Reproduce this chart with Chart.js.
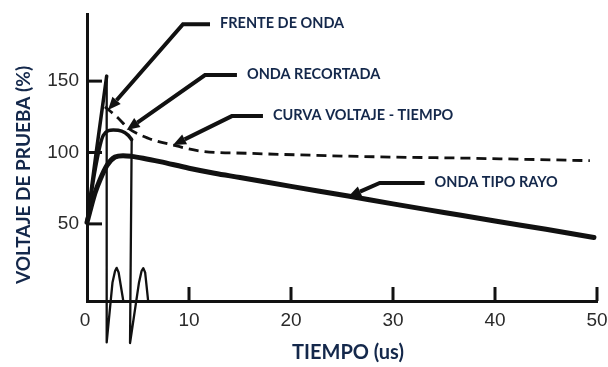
<!DOCTYPE html>
<html>
<head>
<meta charset="utf-8">
<script src="https://cdn.jsdelivr.net/npm/chart.js@4.4.0/dist/chart.umd.min.js"></script>
<style>
  html, body { margin: 0; padding: 0; background: #ffffff; }
  #wrap { width: 608px; height: 367px; position: relative; }
</style>
</head>
<body>
<div id="wrap"><canvas id="c" width="608" height="367"></canvas></div>
<script>
// ---- axis ticks ----
const timeTicks = [0, 10, 20, 30, 40, 50];
const voltTicks = [50, 100, 150];

// ---- full lightning impulse (ONDA TIPO RAYO) ----
const rayoT = [0, 0.4, 0.8, 1.27, 1.96, 2.75, 3.53, 4.38, 5.5, 7.16, 10, 12.5, 15, 20, 25.6, 30, 35, 40, 45, 49.7];
const rayoV = [51, 62, 72, 80.8, 91, 96.8, 97.8, 97.3, 96, 93.6, 89, 85.5, 82.5, 76.3, 69.5, 64, 58, 52, 46.2, 40.5];

// ---- chopped wave (ONDA RECORTADA): crest, then collapse and ringing ----
const recorteT = [0, 0.8, 1.6, 2.58, 3.4, 4.05, 4.38];
const recorteV = [51, 88, 112, 115.7, 115, 112, 109];
const recorteColaT = [4.38, 4.22, 5.1, 5.35, 5.52, 5.7, 6.0];
const recorteColaV = [109, -33.4, 9, 17, 19, 16, -4.3];

// ---- front-of-wave (FRENTE DE ONDA): steep rise, chopped on the front ----
const frenteT = [0, 0.9, 1.93];
const frenteV = [51, 100, 153.5];
const frenteColaT = [1.93, 1.93, 2.5, 2.75, 2.91, 3.1, 3.56];
const frenteColaV = [153.5, -33, 9, 17, 19.2, 16, -4];

// ---- voltage-time curve (CURVA VOLTAJE - TIEMPO) ----
const vtT = [1.76, 3.07, 4.05, 6.0, 8.46, 11.1, 16, 20.9, 28.4, 37.5, 49.3];
const vtV = [132, 124, 117, 110, 105.2, 101, 99.4, 98.3, 97, 96, 94.3];

// ---- callouts: label, arrow tip, elbow and end of the leader (in data units) ----
const callouts = [
  { text: 'FRENTE DE ONDA',         tip: [2.06, 129.7], elbow: [9.41, 189.9],  end: [12.06, 189.9] },
  { text: 'ONDA RECORTADA',         tip: [3.89, 115.7], elbow: [11.57, 154.2], end: [14.7, 154.2] },
  { text: 'CURVA VOLTAJE - TIEMPO', tip: [8.43, 105.2], elbow: [14.2, 125.5],  end: [17.25, 125.5] },
  { text: 'ONDA TIPO RAYO',         tip: [25.6, 69],    elbow: [28.7, 78.7],   end: [33.1, 78.7] }
];

const xTitle = 'TIEMPO (us)';
const yTitle = 'VOLTAJE DE PRUEBA (%)';

const zip = (xs, ys) => xs.map((x, i) => ({ x: x, y: ys[i] }));

const INK = '#111111';
const NAVY = '#14284b';

// tick marks, tick labels, axis titles and callouts
const decorations = {
  id: 'decorations',
  afterDatasetsDraw(chart) {
    const { ctx, chartArea: area } = chart;
    const xs = chart.scales.x, ys = chart.scales.y;
    ctx.save();

    // inward tick marks
    ctx.strokeStyle = INK;
    ctx.lineWidth = 3;
    ctx.lineCap = 'butt';
    voltTicks.forEach(v => {
      const py = ys.getPixelForValue(v);
      ctx.beginPath();
      ctx.moveTo(area.left, py);
      ctx.lineTo(area.left + 15, py);
      ctx.stroke();
    });
    timeTicks.slice(1).forEach(t => {
      const px = xs.getPixelForValue(t);
      ctx.beginPath();
      ctx.moveTo(px, area.bottom);
      ctx.lineTo(px, area.bottom - 14);
      ctx.stroke();
    });

    // tick labels
    ctx.fillStyle = '#2a2a2a';
    ctx.font = '19px "Liberation Sans", Arial, sans-serif';
    ctx.textAlign = 'right';
    ctx.textBaseline = 'middle';
    voltTicks.forEach(v => ctx.fillText(String(v), area.left - 8, ys.getPixelForValue(v)));
    ctx.textAlign = 'center';
    ctx.textBaseline = 'top';
    timeTicks.forEach(t => ctx.fillText(String(t), xs.getPixelForValue(t) - (t === 0 ? 2 : 0), area.bottom + 10));

    // axis titles
    ctx.fillStyle = NAVY;
    ctx.font = 'bold 20px Lato, "Open Sans", sans-serif';
    ctx.textAlign = 'center';
    ctx.textBaseline = 'middle';
    ctx.fillText(xTitle, 348, 353);
    ctx.save();
    ctx.translate(24, 175);
    ctx.rotate(-Math.PI / 2);
    ctx.font = 'bold 19px Lato, "Open Sans", sans-serif';
    ctx.fillText(yTitle, 0, 0);
    ctx.restore();

    // callouts with leader arrows
    callouts.forEach(c => {
      const tx = xs.getPixelForValue(c.tip[0]), ty = ys.getPixelForValue(c.tip[1]);
      const ex = xs.getPixelForValue(c.elbow[0]), ey = ys.getPixelForValue(c.elbow[1]);
      const nx = xs.getPixelForValue(c.end[0]), ny = ys.getPixelForValue(c.end[1]);
      const ang = Math.atan2(ey - ty, ex - tx);
      const headLen = 13, headHalf = 5.5;
      const bx = tx + Math.cos(ang) * headLen, by = ty + Math.sin(ang) * headLen;

      ctx.strokeStyle = INK;
      ctx.lineWidth = 4;
      ctx.lineJoin = 'miter';
      ctx.beginPath();
      ctx.moveTo(nx, ny);
      ctx.lineTo(ex, ey);
      ctx.lineTo(bx, by);
      ctx.stroke();

      ctx.fillStyle = INK;
      ctx.beginPath();
      ctx.moveTo(tx, ty);
      ctx.lineTo(bx + Math.sin(ang) * headHalf, by - Math.cos(ang) * headHalf);
      ctx.lineTo(bx - Math.sin(ang) * headHalf, by + Math.cos(ang) * headHalf);
      ctx.closePath();
      ctx.fill();

      ctx.fillStyle = NAVY;
      ctx.font = 'bold 14.5px Lato, "Open Sans", sans-serif';
      ctx.textAlign = 'left';
      ctx.textBaseline = 'middle';
      ctx.fillText(c.text, nx + 10, ny - 1);
    });

    ctx.restore();
  }
};

const curve = (data, width, extra) => Object.assign({
  data: data,
  borderColor: INK,
  borderWidth: width,
  pointRadius: 0,
  fill: false,
  tension: 0,
  borderCapStyle: 'round',
  borderJoinStyle: 'round',
  clip: false
}, extra || {});

new Chart(document.getElementById('c'), {
  type: 'line',
  data: {
    datasets: [
      curve(zip(vtT, vtV), 2.8, { borderDash: [10, 6], borderCapStyle: 'butt', cubicInterpolationMode: 'monotone' }),
      curve(zip(frenteT, frenteV), 3.5),
      curve(zip(frenteColaT, frenteColaV), 2.3),
      curve(zip(recorteT, recorteV), 3.5, { cubicInterpolationMode: 'monotone' }),
      curve(zip(recorteColaT, recorteColaV), 2.3),
      curve(zip(rayoT, rayoV), 5, { cubicInterpolationMode: 'monotone' })
    ]
  },
  options: {
    responsive: false,
    devicePixelRatio: 1,
    animation: false,
    layout: { padding: { left: 87, right: 11, top: 14, bottom: 66 } },
    plugins: { legend: { display: false }, tooltip: { enabled: false } },
    scales: {
      x: {
        type: 'linear', min: 0, max: 50,
        grid: { display: false, drawTicks: false },
        ticks: { display: false },
        border: { display: true, color: INK, width: 3 }
      },
      y: {
        type: 'linear', min: -4, max: 197,
        grid: { display: false, drawTicks: false },
        ticks: { display: false },
        border: { display: true, color: INK, width: 3 }
      }
    }
  },
  plugins: [decorations]
});
</script>
</body>
</html>
